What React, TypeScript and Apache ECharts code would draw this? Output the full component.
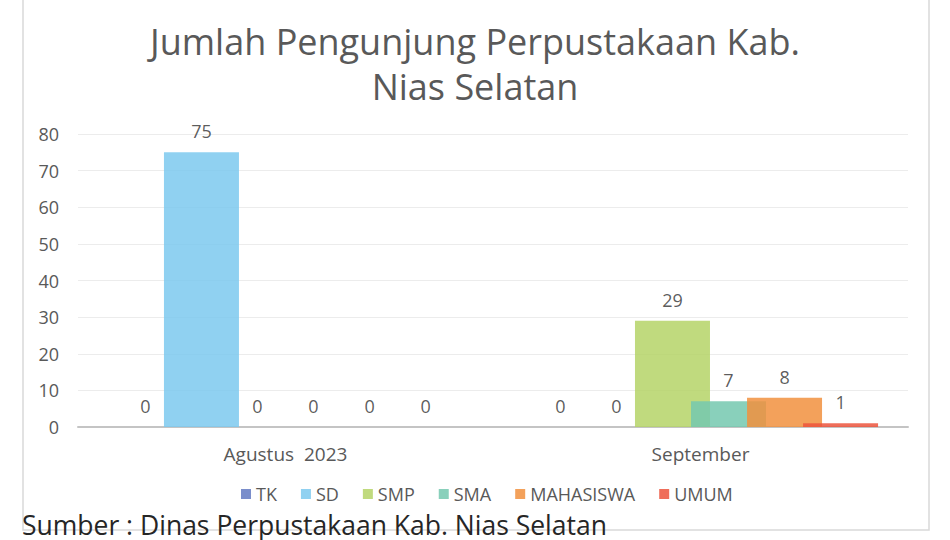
import React, { useEffect, useRef } from "react";
import * as echarts from "echarts";

const categories = ["Agustus  2023", "September"];
const seriesNames = ["TK", "SD", "SMP", "SMA", "MAHASISWA", "UMUM"];
const tkValues = [0, 0];
const sdValues = [75, 0];
const smpValues = [0, 29];
const smaValues = [0, 7];
const mahasiswaValues = [0, 8];
const umumValues = [0, 1];
const colors = ["#637ac2", "#7dc9ee", "#b5d467", "#74c8af", "#f1913e", "#ec553d"];
const yTicks = { min: 0, max: 80, interval: 10 };
const titleText = "Jumlah Pengunjung Perpustakaan Kab.\nNias Selatan";
const sourceText = "Sumber : Dinas Perpustakaan Kab. Nias Selatan";

const FONT = "'Open Sans', 'Noto Sans', sans-serif";

export default function App() {
  const ref = useRef<HTMLDivElement>(null);
  useEffect(() => {
    if (!ref.current) return;
    const chart = echarts.init(ref.current, undefined, { renderer: "svg" });
    const allValues = [tkValues, sdValues, smpValues, smaValues, mahasiswaValues, umumValues];
    chart.setOption({
      animation: false,
      backgroundColor: "#ffffff",
      title: {
        text: titleText,
        left: "center",
        top: 14,
        textStyle: {
          fontFamily: FONT,
          fontSize: 36,
          fontWeight: "normal",
          color: "#595959",
          lineHeight: 45,
        },
      },
      legend: {
        data: seriesNames,
        bottom: 31,
        left: 236,
        itemWidth: 10,
        itemHeight: 10,
        itemGap: 24,
        icon: "rect",
        textStyle: { fontFamily: FONT, fontSize: 18, color: "#595959", lineHeight: 20 },
      },
      grid: { left: 78, right: 42, top: 134, bottom: 113, containLabel: false },
      xAxis: {
        type: "category",
        data: categories,
        axisLine: { lineStyle: { color: "#c4c4c4", width: 2 } },
        axisTick: { show: false },
        axisLabel: { fontFamily: FONT, fontSize: 19, color: "#595959", margin: 17 },
      },
      yAxis: {
        type: "value",
        min: yTicks.min,
        max: yTicks.max,
        interval: yTicks.interval,
        axisLine: { show: false },
        axisTick: { show: false },
        splitLine: { lineStyle: { color: "#ececec", width: 1 } },
        axisLabel: { fontFamily: FONT, fontSize: 18, color: "#595959", margin: 19 },
      },
      graphic: [
        {
          type: "rect",
          z: -10,
          shape: { x: 23, y: -2, width: 906, height: 532 },
          style: { fill: "none", stroke: "#d9d9d9", lineWidth: 1.5 },
          silent: true,
        },
        {
          type: "text",
          left: 22,
          top: 511,
          z: 100,
          style: {
            text: sourceText,
            fontFamily: FONT,
            fontSize: 26.5,
            lineHeight: 28,
            fill: "#262626",
          },
        },
      ],
      series: seriesNames.map((name, i) => ({
        name,
        type: "bar",
        data: allValues[i],
        barWidth: 75,
        barGap: "-25.3%",
        itemStyle: { color: colors[i], opacity: 0.85 },
        label: {
          show: true,
          position: "top",
          distance: 12,
          fontFamily: FONT,
          fontSize: 18,
          color: "#404040",
        },
      })),
    });
    return () => chart.dispose();
  }, []);
  return (
    <div
      ref={ref}
      style={{ position: "fixed", left: 0, top: 0, width: 950, height: 540 }}
    />
  );
}
